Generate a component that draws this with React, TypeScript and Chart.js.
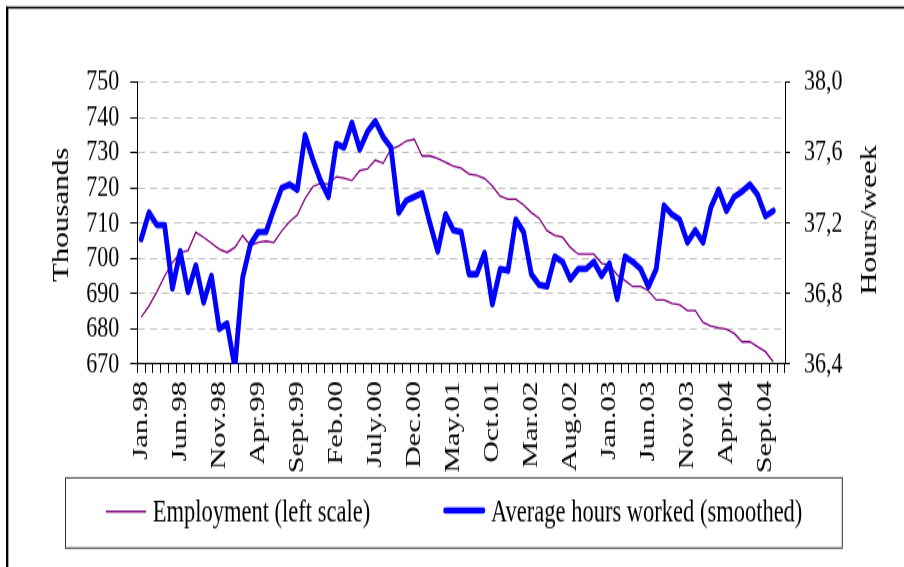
import React, { useEffect, useRef } from "react";
import { Chart, registerables } from "chart.js";

Chart.register(...registerables);

// ---- data ----
const monthNames = ["Jan.", "Feb.", "Mar.", "Apr.", "May.", "Jun.", "July.", "Aug.", "Sept.", "Oct.", "Nov.", "Dec."];
const years = ["98", "99", "00", "01", "02", "03", "04"];
const categoryCount = 83; // Jan.98 .. Nov.04
const categories: string[] = [];
for (let i = 0; i < categoryCount; i++) {
  categories.push(monthNames[i % 12] + years[Math.floor(i / 12)]);
}

const employment = [
  683.3, 686.5, 690.5, 695.0, 698.8, 701.6, 702.2, 707.4, 706.0, 704.3,
  702.6, 701.7, 703.1, 706.5, 703.6, 704.6, 704.9, 704.5, 707.8, 710.4,
  712.3, 717.0, 720.4, 721.3, 721.1, 723.2, 722.8, 722.1, 724.9, 725.4,
  727.9, 727.0, 731.0, 731.9, 733.4, 733.8, 729.1, 729.1, 728.4, 727.3,
  726.2, 725.6, 724.0, 723.6, 722.7, 720.6, 717.7, 716.8, 716.8, 715.2,
  713.0, 711.4, 707.9, 706.5, 706.0, 703.1, 701.2, 701.2, 701.2, 698.6,
  698.1, 695.3, 693.7, 692.0, 692.0, 690.8, 688.2, 688.2, 687.2, 686.8,
  685.2, 685.2, 681.8, 680.8, 680.3, 679.9, 678.7, 676.3, 676.3, 674.9,
  673.5, 670.6,
];

const hours = [
  37.11, 37.26, 37.19, 37.19, 36.83, 37.04, 36.81, 36.96, 36.75, 36.90,
  36.60, 36.63, 36.38, 36.89, 37.08, 37.15, 37.15, 37.28, 37.40, 37.42,
  37.39, 37.70, 37.56, 37.44, 37.35, 37.65, 37.63, 37.77, 37.62, 37.72,
  37.78, 37.69, 37.63, 37.26, 37.33, 37.35, 37.37, 37.20, 37.04, 37.25,
  37.16, 37.15, 36.91, 36.91, 37.03, 36.74, 36.94, 36.93, 37.22, 37.15,
  36.91, 36.85, 36.84, 37.01, 36.98, 36.88, 36.94, 36.94, 36.98, 36.90,
  36.97, 36.77, 37.01, 36.98, 36.94, 36.84, 36.94, 37.30, 37.25, 37.22,
  37.09, 37.16, 37.09, 37.29, 37.39, 37.27, 37.35, 37.38, 37.42, 37.36,
  37.24, 37.27,
];

const leftMin = 670;
const leftMax = 750;
const leftStep = 10;
const rightMin = 36.4;
const rightMax = 38.0;
const rightStep = 0.4;

const seriesNames = ["Employment (left scale)", "Average hours worked (smoothed)"];
const axisTitles = ["Thousands", "Hours/week"];

// ---- geometry (the canvas is drawn short and stretched vertically, like the reference) ----
const W = 904;
const H = 567;
const CH = 411;
const K = H / CH;
const y = (v: number) => v / K;
const PLOT_LEFT = 137.3;
const PLOT_RIGHT = 785;
const PLOT_TOP = y(82.3);
const PLOT_BOTTOM = y(364);
const FONT = '"Liberation Serif", "Times New Roman", serif';

const decorPlugin = {
  id: "decor",
  afterDraw(chart: any) {
    const ctx = chart.ctx as CanvasRenderingContext2D;
    ctx.save();
    // outer frame (top and left edges visible)
    ctx.strokeStyle = "#000";
    ctx.lineWidth = 1.7;
    ctx.beginPath();
    ctx.moveTo(6, y(7.6));
    ctx.lineTo(W, y(7.6));
    ctx.stroke();
    ctx.lineWidth = 2.3;
    ctx.beginPath();
    ctx.moveTo(7.2, y(6.4));
    ctx.lineTo(7.2, CH);
    ctx.stroke();

    // axis titles
    ctx.fillStyle = "#000";
    ctx.font = `22.5px ${FONT}`;
    ctx.textAlign = "center";
    ctx.textBaseline = "alphabetic";
    ctx.save();
    ctx.translate(68, y(215));
    ctx.rotate(-Math.PI / 2);
    ctx.fillText(axisTitles[0], 0, 0);
    ctx.restore();
    ctx.save();
    ctx.translate(876, y(220));
    ctx.rotate(-Math.PI / 2);
    ctx.fillText(axisTitles[1], 0, 0);
    ctx.restore();

    // legend box
    ctx.strokeStyle = "#333";
    ctx.lineWidth = 1;
    ctx.strokeRect(65.5, y(477.8), 842.3 - 65.5, y(548) - y(477.8));
    // legend samples
    ctx.lineCap = "butt";
    ctx.strokeStyle = "#800080";
    ctx.lineWidth = 1.3;
    ctx.beginPath();
    ctx.moveTo(106, y(511.5));
    ctx.lineTo(146, y(511.5));
    ctx.stroke();
    ctx.strokeStyle = "#0000ff";
    ctx.lineWidth = 4.6;
    ctx.lineCap = "round";
    ctx.beginPath();
    ctx.moveTo(445.5, y(510.5));
    ctx.lineTo(483, y(510.5));
    ctx.stroke();
    // legend text
    ctx.textAlign = "left";
    ctx.font = `22.5px ${FONT}`;
    ctx.fillText(seriesNames[0], 152.7, y(521.7));
    ctx.fillText(seriesNames[1], 491, y(521.7));
    ctx.restore();
  },
};

export default function App() {
  const ref = useRef<HTMLCanvasElement | null>(null);

  useEffect(() => {
    if (!ref.current) return;
    Chart.defaults.font.family = FONT;
    Chart.defaults.color = "#000";
    const chart = new Chart(ref.current, {
      type: "line",
      data: {
        labels: categories,
        datasets: [
          {
            label: seriesNames[0],
            data: employment,
            yAxisID: "yL",
            borderColor: "#800080",
            backgroundColor: "#800080",
            borderWidth: 1.3,
            pointRadius: 0,
            tension: 0,
            clip: 0,
            order: 1,
          },
          {
            label: seriesNames[1],
            data: hours,
            yAxisID: "yR",
            borderColor: "#0000ff",
            backgroundColor: "#0000ff",
            borderWidth: 4.8,
            pointRadius: 0,
            tension: 0,
            borderJoinStyle: "round",
            borderCapStyle: "round",
            clip: 0,
            order: 0,
          },
        ],
      },
      options: {
        responsive: false,
        animation: false,
        devicePixelRatio: 1,
        events: [],
        layout: { padding: { top: PLOT_TOP, left: 0, right: 0, bottom: 0 } },
        plugins: { legend: { display: false }, tooltip: { enabled: false }, title: { display: false } },
        scales: {
          x: {
            type: "category",
            offset: true,
            grid: { offset: true, drawOnChartArea: false, tickLength: 6.5, color: "#000", lineWidth: 1 },
            border: { color: "#000", width: 1 },
            ticks: {
              autoSkip: false,
              minRotation: 90,
              maxRotation: 90,
              padding: 6,
              color: "#000",
              font: { size: 22, family: FONT },
              callback: (_v: any, i: number) => (i % 5 === 0 ? categories[i] : ""),
            },
            afterFit: (s: any) => {
              s.height = CH - PLOT_BOTTOM;
            },
          },
          yL: {
            type: "linear",
            position: "left",
            min: leftMin,
            max: leftMax,
            ticks: { stepSize: leftStep, autoSkip: false, padding: 11, color: "#000", font: { size: 22, family: FONT } },
            grid: {
              color: (c: any) => (c.tick && c.tick.value === leftMin ? "rgba(0,0,0,0)" : "#c0c0c0"),
              tickColor: "#000",
              tickLength: 7,
              lineWidth: 1,
            },
            border: { color: "#000", width: 1, dash: [7, 5] },
            afterFit: (s: any) => {
              s.width = PLOT_LEFT;
            },
          },
          yR: {
            type: "linear",
            position: "right",
            min: rightMin,
            max: rightMax,
            ticks: {
              stepSize: rightStep,
              autoSkip: false,
              padding: 14,
              color: "#000",
              font: { size: 22, family: FONT },
              callback: (v: any) => Number(v).toFixed(1).replace(".", ","),
            },
            grid: { drawOnChartArea: false, tickLength: 5, color: "#000", lineWidth: 1 },
            border: { color: "#000", width: 1 },
            afterFit: (s: any) => {
              s.width = W - PLOT_RIGHT;
            },
          },
        },
      },
      plugins: [decorPlugin],
    } as any);
    return () => chart.destroy();
  }, []);

  return (
    <div style={{ position: "absolute", left: 0, top: 0, width: W, height: H, background: "#fff", overflow: "hidden" }}>
      <canvas ref={ref} width={W} height={CH} style={{ display: "block", width: `${W}px`, height: `${H}px` }} />
    </div>
  );
}
